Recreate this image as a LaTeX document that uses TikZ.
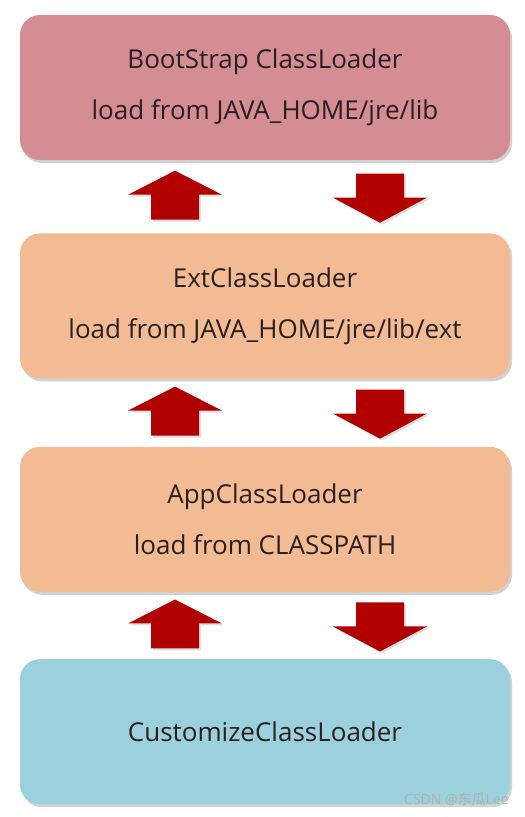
\documentclass[tikz,border=0pt]{standalone}
\usepackage{fontspec}
\setmainfont{Open Sans}
\newfontfamily\cjk{Noto Sans CJK SC}
\usepackage{tikz}
\usetikzlibrary{positioning, calc, shadows}
\definecolor{bootred}{HTML}{D48C95}
\definecolor{extpeach}{HTML}{F3BB93}
\definecolor{custblue}{HTML}{9BD1DC}
\definecolor{arrowred}{HTML}{B00000}
\definecolor{textdark}{HTML}{2A1E1E}

\begin{document}
\begin{tikzpicture}[x=1pt,y=1pt,node distance=70pt,
    loader/.style={shape=rectangle,rounded corners=20pt,minimum width=490pt,minimum height=145pt,
      inner sep=0pt,align=center,text=textdark,
      font=\fontsize{26}{51}\selectfont,
      drop shadow={shadow xshift=2pt,shadow yshift=-3pt,opacity=.3,fill=black!60}},
    uparrow/.pic={\fill[arrowred,drop shadow={shadow xshift=2pt,shadow yshift=-2pt,opacity=.25}]
      (-24,-25) -- (-24,0) -- (-47,0) -- (0,24) -- (47,0) -- (24,0) -- (24,-25) -- cycle;},
    downarrow/.pic={\fill[arrowred,drop shadow={shadow xshift=2pt,shadow yshift=-2pt,opacity=.25}]
      (-24,24) -- (-24,0) -- (-47,0) -- (0,-25) -- (47,0) -- (24,0) -- (24,24) -- cycle;}]
    \useasboundingbox (0,0) rectangle (525,817);

    \node[loader,fill=bootred] (boot) at (265,729.5) {BootStrap ClassLoader\\load from JAVA\_HOME/jre/lib};
    \node[loader,fill=extpeach,below=73pt of boot] (ext) {ExtClassLoader\\load from JAVA\_HOME/jre/lib/ext};
    \node[loader,fill=extpeach,below=68pt of ext] (app) {AppClassLoader\\load from CLASSPATH};
    \node[loader,fill=custblue,below=67pt of app] (custom) {CustomizeClassLoader};

    % delegation arrows between the loaders
    \foreach \upper/\lower in {boot/ext, ext/app, app/custom} {
      \coordinate (mid) at ($(\upper.south)!.5!(\lower.north)$);
      \pic at ([xshift=-90pt,yshift=2pt]mid) {uparrow};
      \pic at ([xshift=115pt,yshift=-1pt]mid) {downarrow};
    }

    \node[anchor=east,font=\fontsize{14}{16}\selectfont,text=black!30] (mark)
      at ([xshift=2pt,yshift=5pt]custom.south east) {CSDN @{\cjk 东瓜}Lee};
\end{tikzpicture}
\end{document}
